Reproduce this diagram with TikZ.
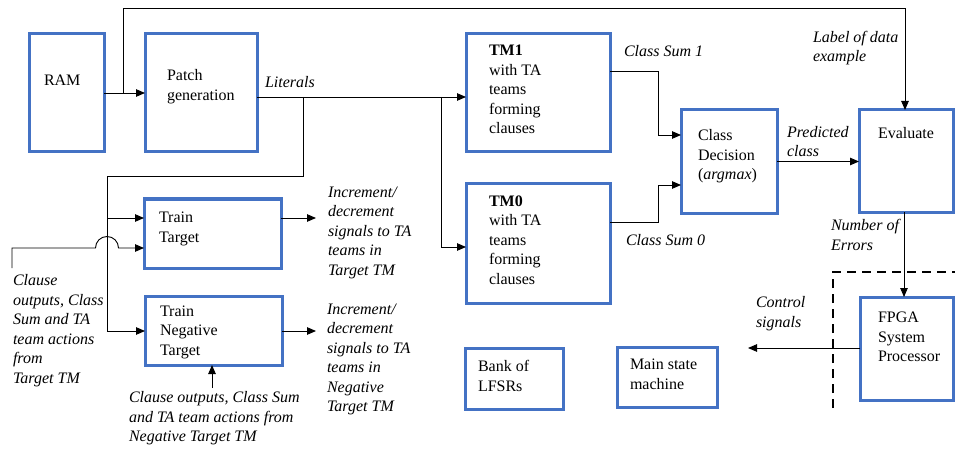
\documentclass[tikz,border=0pt]{standalone}
\usepackage{fontspec}
\setmainfont{Liberation Serif}
\usetikzlibrary{arrows.meta}
\definecolor{bxblue}{HTML}{4472C4}
\begin{document}
\begin{tikzpicture}[x=1pt,y=-1pt,
 box/.style={draw=bxblue,line width=3pt,rectangle,inner sep=0pt,outer sep=0pt,anchor=north west},
 conn/.style={draw=black,line width=0.9pt},
 arr/.style={conn,-{Triangle[length=9pt,width=7.5pt]}},
 txt/.style={inner sep=0pt,outer sep=0pt,align=left,anchor=base west,font=\fontsize{16}{19.5}\selectfont},
 itxt/.style={txt,font=\fontsize{16}{19.5}\selectfont\itshape}]
\useasboundingbox (0,0) rectangle (955,449);
% boxes
\node[box,minimum width=75pt,minimum height=118pt] (ram) at (29,34) {};
\node[box,minimum width=112pt,minimum height=118pt] (patch) at (145,34) {};
\node[box,minimum width=144pt,minimum height=118pt] (tm1) at (466,34) {};
\node[box,minimum width=144pt,minimum height=119pt] (tm0) at (466,184) {};
\node[box,minimum width=96pt,minimum height=103pt] (cd) at (681,110) {};
\node[box,minimum width=94pt,minimum height=102pt] (eval) at (859,110) {};
\node[box,minimum width=93pt,minimum height=103pt] (fpga) at (860,297) {};
\node[box,minimum width=137pt,minimum height=69pt] (trainT) at (144,199) {};
\node[box,minimum width=137pt,minimum height=69pt] (trainN) at (145,296) {};
\node[box,minimum width=98pt,minimum height=61pt] (bank) at (465,348) {};
\node[box,minimum width=100pt,minimum height=60pt] (main) at (617,347) {};
% dashed region
\draw[line width=2.2pt,dash pattern=on 9pt off 6pt] (833,408) -- (833,272) -- (955,272);
% connectors
\coordinate (j1) at (123,93);
\coordinate (tr) at (905,8);
\draw[arr] (ram) -- (patch);
\draw[arr] (j1) |- (tr) -- (tr |- eval.north);
\coordinate (lit) at (300,97);
\draw[arr] (patch.east |- lit) -- (tm1.west |- lit);
\coordinate (b1) at (303,97);
\coordinate (b1d) at (303,176);
\coordinate (vtop) at (107,176);
\coordinate (vbot) at (107,331);
\draw[conn] (b1) -- (b1d) -- (vtop) -- (vbot);
\draw[arr] (vbot) -- (trainN.west |- vbot);
\coordinate (v218) at (107,218);
\draw[arr] (v218) -- (trainT.west |- v218);
\coordinate (b2) at (441,97);
\coordinate (b2d) at (441,247);
\draw[arr] (b2) -- (b2d) -- (tm0.west |- b2d);
\coordinate (c0) at (12,268);
\coordinate (c1) at (12,248);
\coordinate (c2) at (95.5,248);
\draw[arr] (c0) -- (c1) -- (c2) arc[start angle=180,end angle=360,radius=11.5] -- (trainT.west |- c1);
\coordinate (o1) at (316,218);
\draw[arr] (trainT.east |- o1) -- (o1);
\coordinate (o2) at (316,331);
\draw[arr] (trainN.east |- o2) -- (o2);
\coordinate (nin) at (212,388);
\draw[arr] (nin) -- (nin |- trainN.south);
\coordinate (s1) at (658,71);
\coordinate (s1b) at (658,135);
\draw[arr] (tm1.east |- s1) -- (s1) -- (s1b) -- (cd.west |- s1b);
\coordinate (s0) at (658,222);
\coordinate (s0b) at (658,185);
\draw[arr] (tm0.east |- s0) -- (s0) -- (s0b) -- (cd.west |- s0b);
\draw[arr] (cd.east) -- (cd.east -| eval.west);
\coordinate (ne) at (904,212);
\draw[arr] (ne |- eval.south) -- (ne |- fpga.north);
\coordinate (cs) at (748,348);
\draw[arr] (fpga.west |- cs) -- (cs);
% texts (anchor = baseline of the last line)
\node[txt] (tram) at (44,86) {RAM};
\node[txt] (tpatch) at (167,100.5) {Patch\\generation};
\node[itxt] (tlit) at (265,88) {Literals};
\node[txt] (ttm1) at (489,134) {\textbf{TM1}\\with TA\\teams\\forming\\clauses};
\node[txt] (ttm0) at (489,284) {\textbf{TM0}\\with TA\\teams\\forming\\clauses};
\node[itxt] (tcs1) at (624,57) {Class Sum 1};
\node[itxt] (tlab) at (813,62) {Label of data\\example};
\node[txt] (tcd) at (698,179.5) {Class\\Decision\\(\textit{argmax})};
\node[itxt] (tpred) at (787,157) {Predicted\\class};
\node[txt] (tev) at (878,139) {Evaluate};
\node[itxt] (tnum) at (831,250) {Number of\\Errors};
\node[itxt] (tcs0) at (626,245) {Class Sum 0};
\node[itxt] (tctl) at (756,327) {Control\\signals};
\node[txt] (tfpga) at (878,361.5) {FPGA\\System\\Processor};
\node[txt] (tmain) at (630,389) {Main state\\machine};
\node[txt] (tbank) at (478,391) {Bank of\\LFSRs};
\node[txt] (ttt) at (159,242) {Train\\Target};
\node[txt] (ttn) at (160,355) {Train\\Negative\\Target};
\node[itxt] (tinc1) at (328,275) {Increment/\\decrement\\signals to TA\\teams in\\Target TM};
\node[itxt] (tinc2) at (327,411.5) {Increment/\\decrement\\signals to TA\\teams in\\Negative\\Target TM};
\node[itxt] (tcl) at (13,383) {Clause\\outputs, Class\\Sum and TA\\team actions\\from\\Target TM};
\node[itxt] (tcln) at (129,441.5) {Clause outputs, Class Sum\\and TA team actions from\\Negative Target TM};
\end{tikzpicture}
\end{document}
